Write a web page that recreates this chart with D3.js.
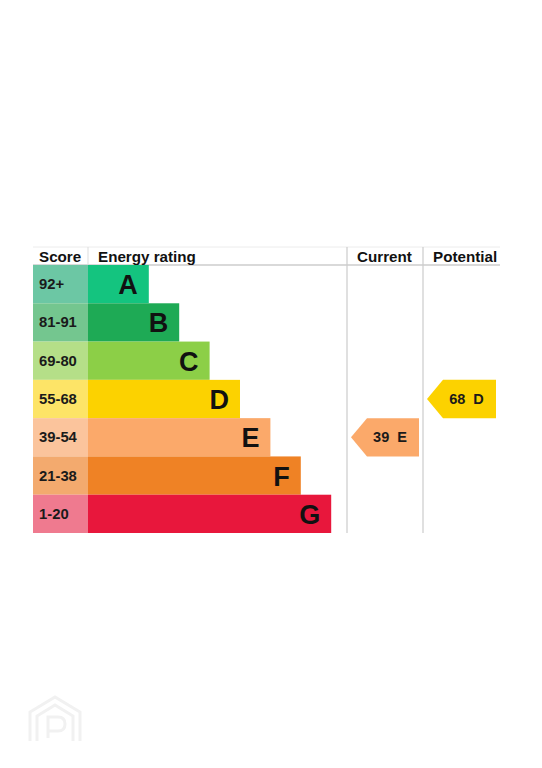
<!DOCTYPE html>
<html>
<head>
<meta charset="utf-8">
<script src="https://cdn.jsdelivr.net/npm/d3@7"></script>
<style>
  body { margin: 0; background: #fff; }
  text { font-family: "Liberation Sans", Arial, sans-serif; font-weight: bold; }
</style>
</head>
<body>
<div id="chart"></div>
<script>
// energy bands, top to bottom
var bands = ['A', 'B', 'C', 'D', 'E', 'F', 'G'];
var scoreRanges = ['92+', '81-91', '69-80', '55-68', '39-54', '21-38', '1-20'];
var barSteps = [2, 3, 4, 5, 6, 7, 8];
var barColors = ['#14c47f', '#1eaa55', '#8ccf47', '#fcd200', '#fba96a', '#ef8225', '#e8173c'];
var scoreColors = ['#6cc7a4', '#74c68f', '#b5df88', '#fde467', '#fbc49c', '#f3aa6e', '#ef7a8f'];
var headers = ['Score', 'Energy rating', 'Current', 'Potential'];

var currentScore = 39, currentBand = 'E';
var potentialScore = 68, potentialBand = 'D';

var width = 542, height = 768;

var svg = d3.select("#chart").append("svg")
    .attr("width", width)
    .attr("height", height);

var left = 33, scoreRight = 88, curLeft = 347, potLeft = 423, right = 500;
var headTop = 247, rowTop = 265, rowBottom = 533;

var y = d3.scaleBand()
    .domain(bands)
    .range([rowTop, rowBottom]);

var x = d3.scaleLinear()
    .domain([0, 8])
    .range([scoreRight, scoreRight + 8 * 30.4]);

// grid lines
svg.append("line")
    .attr("x1", left).attr("x2", right)
    .attr("y1", headTop).attr("y2", headTop)
    .attr("stroke", "#ececec");
svg.append("line")
    .attr("x1", left).attr("x2", right)
    .attr("y1", rowTop).attr("y2", rowTop)
    .attr("stroke", "#cccccc").attr("stroke-width", 1.5);
svg.append("line")
    .attr("x1", scoreRight).attr("x2", scoreRight)
    .attr("y1", headTop).attr("y2", rowTop)
    .attr("stroke", "#dddddd");
[curLeft, potLeft].forEach(function(cx) {
    svg.append("line")
        .attr("x1", cx).attr("x2", cx)
        .attr("y1", headTop).attr("y2", rowBottom)
        .attr("stroke", "#cccccc").attr("stroke-width", 1.2);
});

// headers
var headX = [39, 98, 357, 433];
svg.selectAll(".head")
    .data(headers)
    .enter()
    .append("text")
    .attr("class", "head")
    .attr("x", function(d, i) { return headX[i]; })
    .attr("y", 262)
    .attr("font-size", 15.2)
    .attr("fill", "#111")
    .text(function(d) { return d; });

// score cells
svg.selectAll(".score")
    .data(bands)
    .enter()
    .append("rect")
    .attr("class", "score")
    .attr("x", left)
    .attr("y", function(d) { return y(d); })
    .attr("width", scoreRight - left)
    .attr("height", y.bandwidth())
    .attr("fill", function(d, i) { return scoreColors[i]; });

svg.selectAll(".scoreLabel")
    .data(bands)
    .enter()
    .append("text")
    .attr("class", "scoreLabel")
    .attr("x", 39)
    .attr("y", function(d) { return y(d) + y.bandwidth() / 2 + 5; })
    .attr("font-size", 14.8)
    .attr("fill", "#1a1a1a")
    .text(function(d, i) { return scoreRanges[i]; });

// bars
svg.selectAll(".bar")
    .data(bands)
    .enter()
    .append("rect")
    .attr("class", "bar")
    .attr("x", scoreRight)
    .attr("y", function(d) { return y(d); })
    .attr("width", function(d, i) { return x(barSteps[i]) - scoreRight; })
    .attr("height", y.bandwidth())
    .attr("fill", function(d, i) { return barColors[i]; });

svg.selectAll(".barLabel")
    .data(bands)
    .enter()
    .append("text")
    .attr("class", "barLabel")
    .attr("x", function(d, i) { return x(barSteps[i]) - 11; })
    .attr("y", function(d) { return y(d) + y.bandwidth() / 2 + 10; })
    .attr("text-anchor", "end")
    .attr("font-size", 27)
    .attr("fill", "#111")
    .text(function(d) { return d; });

// arrow markers for current and potential
function arrow(score, band, x0, x1) {
    var i = bands.indexOf(band);
    var y0 = y(band), h = y.bandwidth();
    var pts = [[x0, y0 + h / 2], [x0 + 16, y0], [x1, y0], [x1, y0 + h], [x0 + 16, y0 + h]];
    svg.append("path")
        .attr("d", d3.line()(pts) + "Z")
        .attr("fill", barColors[i]);
    svg.append("text")
        .attr("x", (x0 + 16 + x1) / 2 - 3)
        .attr("y", y0 + h / 2 + 5)
        .attr("text-anchor", "middle")
        .attr("font-size", 14.5)
        .attr("fill", "#1a1a1a")
        .attr("xml:space", "preserve")
        .text(score + "  " + band);
}
arrow(currentScore, currentBand, 351, 419);
arrow(potentialScore, potentialBand, 427, 496);

// faint watermark logo
var wm = svg.append("g")
    .attr("fill", "none")
    .attr("stroke", "#f1f1f1")
    .attr("stroke-width", 3);
wm.append("path").attr("d", "M30,741 V712 L55,697 L80,712 V741");
wm.append("path").attr("d", "M37,741 V716 L55,705 L73,716 V741");
wm.append("path").attr("d", "M48,738 V717 H58 Q65,717 65,724 Q65,731 58,731 H48");
</script>
</body>
</html>
